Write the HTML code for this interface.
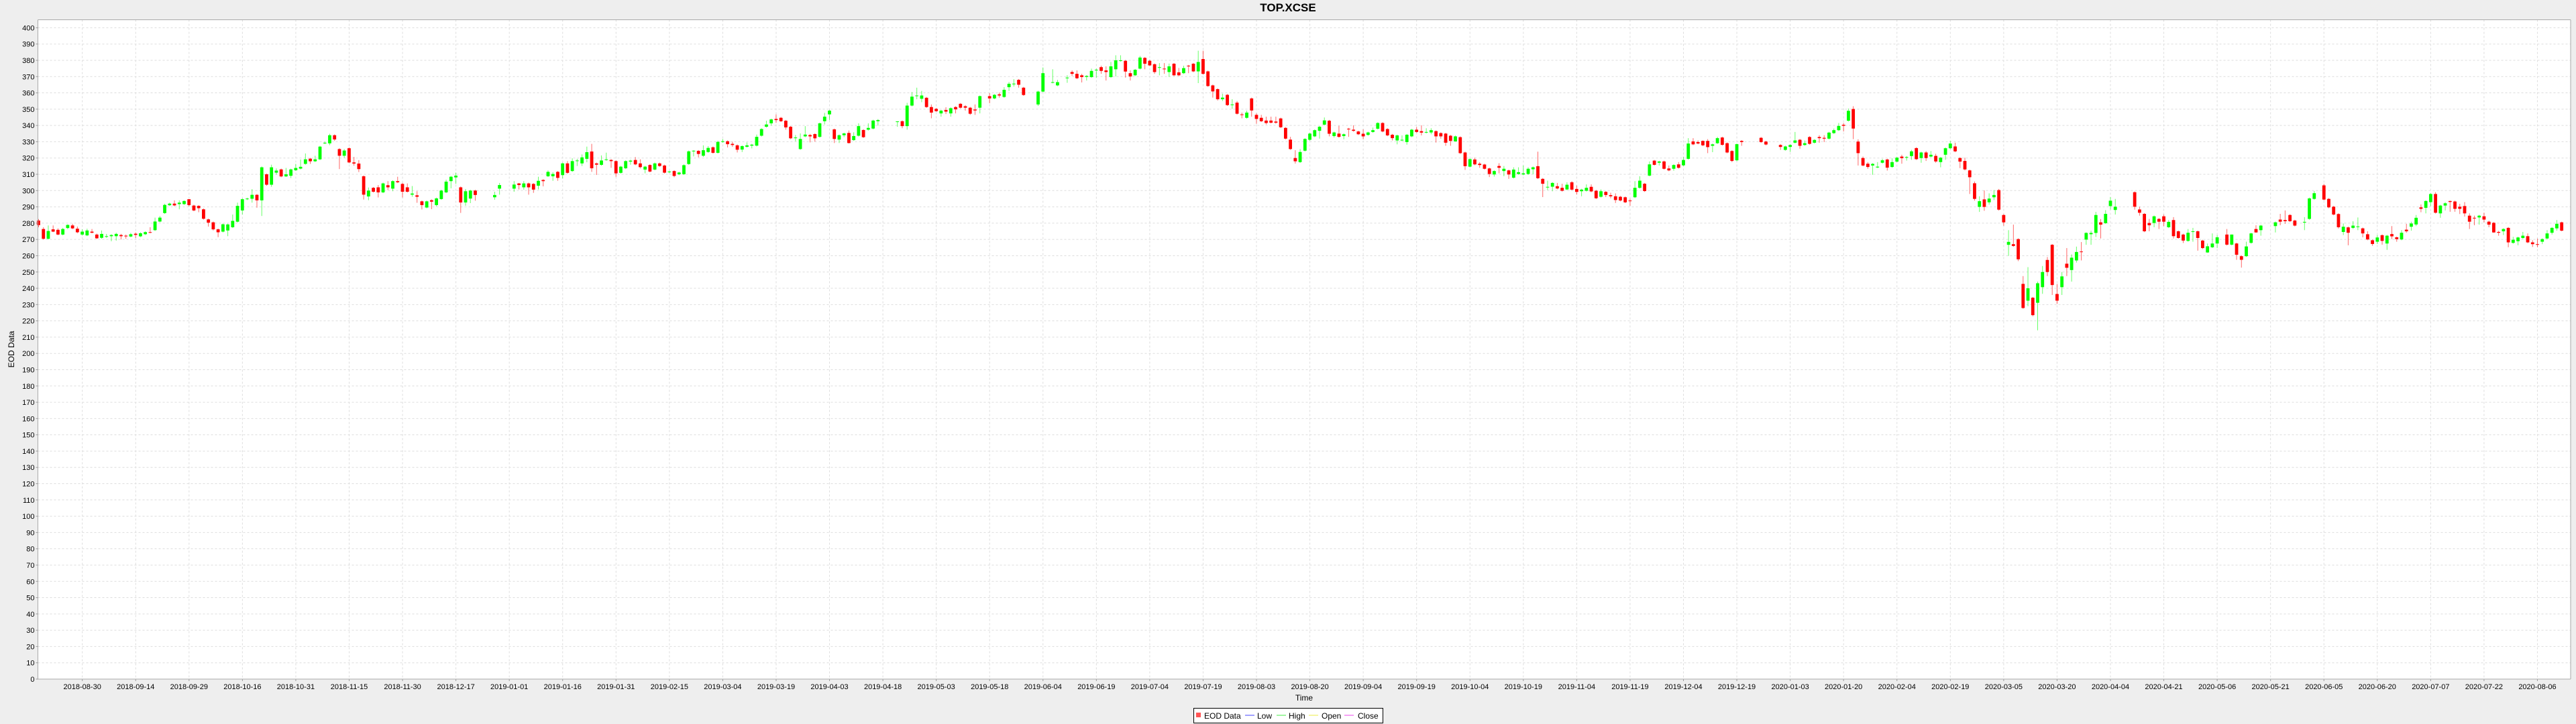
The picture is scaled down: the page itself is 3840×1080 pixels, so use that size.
<!DOCTYPE html>
<html><head><meta charset="utf-8"><title>TOP.XCSE</title>
<style>
html,body{margin:0;padding:0;background:#eeeeee;}
svg{display:block;font-family:"Liberation Sans",sans-serif;}
</style></head>
<body>
<svg id="chart" width="3840" height="1080" xmlns="http://www.w3.org/2000/svg">
<rect x="0" y="0" width="3840" height="1080" fill="#eeeeee"/>
<text x="1920" y="17" text-anchor="middle" font-size="17" font-weight="bold" fill="#000">TOP.XCSE</text>
<rect x="56.5" y="29.5" width="3775.5" height="983.5" fill="#ffffff"/>
<g id="grid"></g>
<g id="yaxis"></g>
<g id="xaxis"></g>
<g id="candles"></g>
<line x1="56.5" y1="29.5" x2="56.5" y2="1013" stroke="#aaaaaa" stroke-width="1"/>
<line x1="56.5" y1="1013" x2="3832" y2="1013" stroke="#aaaaaa" stroke-width="1"/>
<line x1="56.5" y1="29.5" x2="3832" y2="29.5" stroke="#aaaaaa" stroke-width="1"/>
<line x1="3832" y1="29.5" x2="3832" y2="1013" stroke="#aaaaaa" stroke-width="1"/>
<text transform="translate(21,521) rotate(-90)" text-anchor="middle" font-size="12" fill="#000">EOD Data</text>
<text x="1944" y="1045" text-anchor="middle" font-size="12" fill="#000">Time</text>
<g>
<rect x="1779.5" y="1056.5" width="282" height="22" fill="#ffffff" stroke="#000" stroke-width="1"/>
<g><rect x="1783" y="1063" width="7" height="7" fill="#ff5555"/><text x="1795" y="1072" font-size="12" fill="#000">EOD Data</text></g>
<g><line x1="1856" y1="1067" x2="1870" y2="1067" stroke="#4444ff"/><text x="1874" y="1072" font-size="12" fill="#000">Low</text></g>
<g><line x1="1903" y1="1067" x2="1917" y2="1067" stroke="#44ee44"/><text x="1921" y="1072" font-size="12" fill="#000">High</text></g>
<g><line x1="1951" y1="1067" x2="1965" y2="1067" stroke="#eeee44"/><text x="1970" y="1072" font-size="12" fill="#000">Open</text></g>
<g><line x1="2004" y1="1067" x2="2018" y2="1067" stroke="#ee44ee"/><text x="2024" y="1072" font-size="12" fill="#000">Close</text></g>
</g>
</svg>
<script>
const tickLabels = ["2018-08-30","2018-09-14","2018-09-29","2018-10-16","2018-10-31","2018-11-15","2018-11-30","2018-12-17","2019-01-01","2019-01-16","2019-01-31","2019-02-15","2019-03-04","2019-03-19","2019-04-03","2019-04-18","2019-05-03","2019-05-18","2019-06-04","2019-06-19","2019-07-04","2019-07-19","2019-08-03","2019-08-20","2019-09-04","2019-09-19","2019-10-04","2019-10-19","2019-11-04","2019-11-19","2019-12-04","2019-12-19","2020-01-03","2020-01-20","2020-02-04","2020-02-19","2020-03-05","2020-03-20","2020-04-04","2020-04-21","2020-05-06","2020-05-21","2020-06-05","2020-06-20","2020-07-07","2020-07-22","2020-08-06"];
const yTicks = [0,10,20,30,40,50,60,70,80,90,100,110,120,130,140,150,160,170,180,190,200,210,220,230,240,250,260,270,280,290,300,310,320,330,340,350,360,370,380,390,400];
const open = [281.6,276.4,270.4,276.2,275.9,273,277,278.6,276.6,273,
272.5,274.8,273,271,271.6,272,272,272.7,272.3,271.8,
273.5,271.9,273.2,274.5,275.7,281,286.2,291,292,291.7,
291.7,294.7,290.8,290.6,288.5,282.3,280.5,276.2,274.8,275.5,
277.5,280.9,287.8,294.7,295,297.4,294,310,303.6,311,
313,308.7,309.1,312.5,313.5,316.4,319.6,318,319.2,329,
329,334,325.5,321.4,326,317.3,316.6,308.8,296.4,301.7,
302,298.9,303.3,301.2,305.8,304.1,302,297.5,297.1,293.4,
289.6,294.1,291.1,294.8,298.9,305.8,308.1,302,292.7,295.1,
300,null,null,null,295.9,301.2,null,null,301.2,304.4,
302,304.4,304.1,303,306.5,308.8,308.8,311.5,309.5,316.7,
312,318.1,316.7,319.5,324,316.7,315.8,318.8,318.8,318.1,
310.9,313.7,317.8,318.8,316.7,312.9,315.7,312.9,316.7,315.4,
311.3,312,310,310.1,316.3,324.1,324.4,321.4,323.7,326.6,
323.2,329.9,330.3,328.7,327.8,325.2,326.9,327.6,327.6,333.7,
339.2,341.3,344,344.7,342.9,339.2,332.2,325.5,333.3,334.1,
334.7,333,342.6,346.8,337.6,331.3,334,335.4,331,333.7,
337.2,337.4,338.1,342.6,null,null,null,342.2,342.6,339.6,
352.2,358.1,356.4,357,351.3,350.2,347.4,349.5,347.4,351.3,
353.3,351.8,350.9,349.8,350.9,null,358,356.6,359.1,357.5,
363.5,365.3,368,363.2,null,null,352.9,360.8,null,366.4,
364.6,null,369,372.8,371.7,370.8,369.8,369.7,374,375.8,
373.8,369.7,374.5,379.7,379.7,372.1,370.8,374.9,381.5,379.7,
377.6,375.6,374.9,372.8,377.9,372.6,372.1,376.7,377.9,373.2,
380.8,373.2,364.6,362.3,356.1,358.8,352.5,354,346.8,344.7,
356.6,346.5,344.7,343,343,342.4,344.3,338.5,331.3,320,
317.5,324.5,331.2,333.3,336.7,340.5,342.9,333.5,335,333.5,
338,337.4,336.3,334.9,334.2,336,338,341.5,337.8,334.3,
330.8,330.8,329.8,333.3,337.4,336.5,335.6,335.7,336.5,335.3,
335,333.7,330.2,332.8,323.4,314.7,319.1,316.5,316,313.6,
309.9,315.1,312,312.4,307.9,310.2,309.9,310.2,313.1,315,
307.2,302,302.4,302.7,301.7,300.7,305.1,301,299.6,299.9,
302.3,299.9,296.2,299.2,297.2,296.5,296.2,295.9,293.9,295.9,
301.7,304.2,309.2,318.4,317.1,317.9,313.6,313.4,316.1,315.5,
319.5,330.2,329.8,330.5,330.5,327.5,329.1,332.6,329.1,324.3,
318.6,330.5,null,null,null,332.4,330.1,null,null,328,
325,326.8,329.4,331.2,328,332.9,329.4,332.9,332.4,331.9,
335.3,337.1,340.4,342.9,350.1,330.1,320,316.5,315.4,314.2,
317.1,319.1,314.5,317.8,320.9,320.2,321.2,326.1,320,323.4,
320.9,321.3,317.5,322,326,327.1,320,318.2,312.4,304.5,
290,294.6,292.8,295.9,300.3,285,266.7,267.1,270.2,242.7,
232.4,234.2,231.1,240.7,257.4,266.7,236.5,240.7,255.1,251.2,
257.1,262.6,269.9,273.2,274,280.5,280,290.5,288.1,null,
null,null,299,288.4,285.7,280.1,280.1,282.6,284.2,277.5,
281.9,275,273,269.1,274.6,275,269.3,262,265.2,267.5,
null,273,266.8,267.5,259.7,259.7,267.9,276.4,275.7,null,
null,278.2,282.2,281.9,285,281.6,null,280.5,282.6,294.9,
null,303.2,294.9,290.1,285.6,274.6,277.4,277.1,277.8,276.8,
273.2,269.5,268.6,272.6,267.5,273.3,271.3,270,276,277.8,
279.2,289.7,289.4,292.9,297.9,286,290.8,293.6,293.3,290.1,
290.5,284.6,283.3,283.5,284.2,280.9,280.2,274.6,275,277.1,
267.9,268.9,270.9,272,268.2,267.1,268.6,270.6,274.1,276.8,280.5];
const high = [282.5,277.5,278.6,278.6,276.8,277.1,279.3,279.6,277.9,276.2,
276.6,276.4,273.6,275.5,273.4,273.2,274.1,273.4,273,274,
274.3,274.4,275,277.5,283.4,284.4,291.9,292.6,294,294,
294,294.7,291.3,291,289,282.8,281,276.7,279.8,279.7,
285.3,292.6,295.2,295.6,300.9,297.9,314.8,310.5,315.9,313.6,
313.5,313.9,313.5,316.4,319.1,322.8,320.1,321.4,327.5,330,
334.9,334.5,326,325.5,326.5,320.7,318.7,309.3,301.9,302.2,
303.4,304.9,305.8,306.3,308.5,304.8,304.4,302.8,299.6,293.9,
293.9,294.6,295.7,300.5,306.7,309,311,302.5,301,300.5,
300.5,null,null,null,299.3,304.7,null,null,305.8,304.7,
305.8,304.9,304.6,308.5,307,312.4,311.3,312,317.2,318.1,
319.8,319.5,322.2,327,328.7,317.2,321.6,323.3,319.3,318.6,
315.2,318.6,319,320.6,319.2,315.2,316.2,317.2,317.2,315.9,
312.2,312.5,311.6,316.1,324.6,324.8,324.9,327.8,327.3,327.1,
330.6,331.7,330.8,330,328.3,327.8,329.6,328.7,334.4,338.3,
342.9,344.2,346.8,345.2,343.4,339.7,334.1,335.1,339.6,334.8,
335.2,341.8,347.7,349.6,338.1,334.5,335.6,336.9,335.8,341.3,
337.7,341.3,343.5,343.9,null,null,null,342.6,343.1,353.9,
360.5,363.2,361.2,357.5,352.9,350.7,349.6,351.2,351.1,351.8,
353.8,352.5,351.4,352.9,358.4,null,359.8,359.3,360.2,363.5,
366.7,368.4,368.5,363.7,null,null,361.3,375.6,null,374.5,
368,null,370.8,373.8,373.8,371.7,370.9,374.9,374.9,376.7,
376.3,379,383.1,383.1,380.2,373.8,374.7,382.7,382,380.4,
378.1,378.3,378.3,378,378.4,375.3,376.7,377.2,378.4,385.9,
385.9,373.7,365.1,362.8,359.5,359.3,356.1,355,347.9,349.1,
357.1,347.4,346.5,345.4,345.4,345.4,344.8,339,333,324.8,
325.5,332.2,335.5,337.6,339.7,344.9,343.4,336.2,339.8,335.1,
338.5,340.1,336.8,337.6,336.2,338.7,342,342,338.3,334.8,
334.4,333.9,334.8,337.9,339.1,340.1,338.3,338.3,337,335.8,
335.5,334.2,333.8,333.3,323.9,319.8,320.2,317.5,316.5,314.1,
312.5,316.8,315.1,312.9,314.3,314.3,315.4,314.3,314.8,323.9,
307.7,306.1,305.2,304.7,304.2,305.1,305.8,303.1,301.1,303.8,
303.8,300.4,300.7,299.7,298.7,298.3,296.7,296.4,295,305.8,
308.8,304.7,317.9,318.8,318.3,318.4,315.4,316.2,317.5,320.6,
332.2,332.2,330.8,330.8,331.6,328.9,333,333.1,329.6,324.8,
328.9,331,null,null,null,332.9,330.6,null,null,328.5,
327.6,328.5,336,331.7,330.8,333.4,331.6,334,334,336.1,
338.1,341.5,341.5,350.4,351.8,331.5,320.9,317.5,316.9,317.5,
319.5,319.6,319.8,320.7,322,321.2,325,326.6,323.9,324.3,
324.3,322.6,320.7,326.5,330.5,329.4,320.5,320.2,312.9,305.6,
296.5,300.1,298.3,300.3,301,285.5,275.7,279.1,270.7,247.5,
253,234.7,244.1,253.7,259.2,267.2,242.7,250,264.7,260.8,
265.6,268.4,274.4,275.4,286.9,282.5,288,296,294.9,null,
null,null,299.5,290.1,286.2,282.6,284.7,283.1,285.3,281.9,
283.7,275.5,273.5,276.4,277.1,275.5,269.8,267.5,273.7,272.7,
null,276.4,273,268,260.2,268.6,274.1,278.7,279,null,
null,281,285.7,287.8,285.5,282.1,null,283.7,295.7,299.7,
null,304.1,295.4,290.6,286.1,279.8,277.9,281.2,283.5,277.3,
275,270,272.7,273.1,272.8,278.2,271.8,275.7,279.6,280.9,
285,291.5,294.1,298.4,299,291.3,292.9,293.8,293.8,291.9,
292.9,286,284.6,285.1,286.4,281.5,280.7,275.3,276.9,277.6,
271.6,271.7,274.6,273.7,269.5,270.5,270.7,275.7,277.6,281.9,280.9];
const low = [277.5,270,270,274.5,272.6,272.5,276.3,276.3,273.8,272.3,
272,273.8,270.3,270.4,271,268.9,269.3,270,270.4,271.3,
270.9,271.4,272.7,273.8,275.2,280.5,285.7,290.5,290.4,288.5,
291.2,290.3,287.3,286.7,282.2,277.9,275.5,271.4,274.3,272,
277,280.4,285.3,294.2,292.6,289.5,284.4,303,302.3,309.8,
308.2,308.4,307.7,312,313,315.9,316.4,317.5,318.7,328.5,
327.9,330.5,313.2,320.1,316.8,315.3,311.4,294.5,294.1,298.8,
295.8,298.4,300.3,299.6,304.6,295.8,298.8,296.2,292.5,288.4,
289.1,288.6,290.3,294.3,298.4,301.4,304.1,286.3,290.7,292.3,
293.8,null,null,null,294.4,297.5,null,null,299.3,300.7,
300.6,297.5,298.6,300.7,302.6,308.3,306,306,307.4,310.4,
311.5,315.1,315.1,317.4,311.5,309.6,315.3,318.3,314,308.5,
310.4,313.2,315.9,315.6,313.6,310.6,311.2,312.4,314.6,310.5,
310.8,308.2,309.5,309.6,315.8,321,320.4,320.7,323.2,322.7,
322.7,329.4,326.5,326.9,323.4,323.7,326.4,325.9,327.1,333.2,
338.7,339.9,341.6,342.1,337.4,331.6,330.3,325,332.8,329.6,
330,332.5,340.6,343.3,329.2,329.2,332.8,328.9,330.5,333.2,
332.3,336.9,337.6,339.9,null,null,null,339.2,338.3,337.4,
351.7,356.1,354.3,350.8,344.4,348.3,345.4,347,345.4,347.4,
350.4,349.1,346.5,346.5,347.4,null,353.6,356.1,357.1,357,
361.2,363.9,363.2,358.2,null,null,352,360.3,null,365.9,
364.1,null,366.2,370.4,368.5,366.4,367.6,369.2,369.4,371.7,
367.6,369.2,370.1,379.2,369.4,367.6,370.3,374.4,374.5,376.4,
371.7,370.8,371.7,369.8,370.3,370.3,371.6,372.1,372.7,366,
371.2,363.7,357.1,355.3,355,352,350.2,346.7,344.4,344.2,
345.4,341,342.1,340.6,341.2,341,338.4,331.4,325,316.6,
317,324,330.7,332.8,331.9,340,333.3,332.6,332.5,331.5,
333,336.2,334.1,331.5,333.7,335.5,337.5,335.8,333.4,330.8,
328.4,330.3,328.2,332.8,335.5,333.9,335.1,334.6,329.5,331.9,
327.5,327.5,330.2,322.5,312.7,314.2,315.6,314,312.9,308.3,
308.6,310.6,308.8,307.2,307.4,309.7,309.4,309.7,310,307.1,
296,300.3,299.6,300.8,299.4,300.2,300.1,297.6,296.5,299.4,
299,294.8,295.7,296,295.3,292.4,293.4,292.3,290.7,295.4,
301.2,299.2,308.7,315.4,315.4,312.9,311.9,312.2,313.5,315,
319,327.9,328.4,327.3,323,323.6,328.6,327.6,322.9,317.5,
318.1,327.5,null,null,null,329.3,327.8,null,null,325,
324.5,323.7,328.9,325.7,327.5,328.2,328.9,329.4,329.8,331.4,
334.8,336.6,336.3,342.4,331.6,315.4,314.9,313.4,309.7,313.8,
316.6,312.3,314,317.3,316.5,318.4,318.9,318.8,317.1,318.2,
320.4,317.1,314.3,318.9,325.5,323.6,313.8,312.4,297.9,293.8,
286.9,287.6,291.4,294.2,287.7,278.4,259.9,265.5,256.7,227.4,
229,222.8,214.2,236.6,247.5,235.9,230.4,235.9,247.5,244.1,
255.8,257.1,266.7,266.7,271.5,270.6,279.5,288.4,285.3,null,
null,null,288.3,284.6,274.5,275,277.5,276.4,278.2,277,
270.6,270.4,267.8,268.6,268.6,263.1,264.1,261.7,264.7,264.7,
null,266.3,266.3,257.5,252.7,259.3,267.4,274.1,272.3,null,
null,274.3,278.7,279.6,280.7,278,null,275.7,282.1,294.4,
null,294,289.2,284.8,276.7,272.7,266.4,276.4,275.7,271.3,
269.5,266.1,267.2,266.8,263.6,270.2,268.6,269.5,274.1,275.4,
278.2,286.7,286,290.5,285.9,283.3,287.8,287,287,285.6,
284,276.4,278.7,279.1,280.5,277.5,274.1,272.3,272.7,265.2,
267.4,266.4,270.4,267.7,265.4,265.2,267.1,270.1,273,275.4,275];
const close = [278.8,270.4,275.2,274.8,273,276.4,278.9,276.8,274.4,274.8,
275.5,274.1,270.7,273.4,272,272.7,273.4,272,271.9,273.2,
272.8,273.8,274.5,274.1,281,283.4,291.2,292,290.9,292.6,
293.6,291.1,287.8,289.2,282.7,280.3,276.2,274.4,279.3,279.2,
281.4,290.6,294.7,295.1,297.4,294,314.3,303.6,314.3,312.3,
308.7,310,313,313.9,314.6,319.2,318,319.2,327,329.4,
334,331.4,321.4,324.6,317.3,316.6,313.2,297.5,300,299.3,
298.9,304.4,302,305.8,305.1,299.3,299.3,298.2,296.2,291.1,
293.4,293.2,295.2,300,305.5,308.5,309.2,292.7,299.6,300,
297.3,null,null,null,297.3,303.4,null,null,303.7,303.4,
304.4,302,300.6,306,305.8,311.5,310.2,307.8,316.7,310.9,
318.1,318.5,320.4,323.6,313.7,315.9,318.5,319.2,318.1,310.6,
314.7,318.1,318.4,316.1,314.4,314.7,311.7,316.7,315.1,311,
311.7,309,311.1,315.6,324.1,324.5,322.5,324.8,326.2,323.2,
329.9,330.3,328.5,328,325.1,327.3,327.8,328.2,333,337.8,
340.6,343.7,343.3,342.6,338.8,332.1,332.6,331.7,334.4,333.3,
332.1,341.3,345.4,349.1,331.7,334,335.1,329.2,333.5,339.6,
332.8,338.5,343,343.3,null,null,null,342.5,339.6,352.2,
357.7,358.4,358.4,351.3,347.9,348.8,349.1,348.5,350.6,349.9,
350.9,350.9,347.2,349.2,358,null,356.6,358.8,358.4,361.9,
365.6,365.7,365,358.7,null,null,360.8,372.1,null,366.6,
366.6,null,369.4,371.7,369,369.7,370.4,373.5,374.2,373.5,
372.8,376.3,380,380,373.1,370.1,374.2,381.7,377.9,376.9,
372.8,375.8,374.6,376.3,370.8,370.8,375.2,376.3,373.2,379,
371.7,364.2,360.9,356.1,357.1,352.5,352.9,347.2,346.4,347.9,
349.2,344,342.6,341.5,341.7,341.7,338.9,331.9,325.5,318,
323.7,331.7,335,337.1,339.2,343.1,334.9,335.7,333,334.6,
337.6,336.7,334.6,333.3,335.7,337.1,341.5,336.3,333.9,332.2,
333.9,331.2,334.3,337.4,336,335.6,336,337.1,333.3,333.3,
329.4,330.5,333.3,323,315,319.3,316.1,315.7,313.4,310.2,
312,314,313.4,309.9,312.9,311.3,310.6,313.4,314.3,307.6,
304.2,302.3,304.7,301.3,299.9,303.6,300.6,299.2,300.6,301.7,
299.5,295.3,299.6,297.3,296.5,294.2,293.9,292.8,293.5,301.7,
306.1,299.7,316.1,315.8,317.9,313.4,312.4,315.7,314,318.8,
328.9,328.4,328.9,327.8,326.7,328.4,332.2,328.1,323.4,318.2,
328.5,329.8,null,null,null,329.8,328.3,null,null,326.8,
327.1,328,330.8,327.5,329.1,328.7,331.1,332.2,331.9,335.6,
337.1,339.7,339.8,349,338.1,323,315.4,314.5,316.4,314.7,
318.6,314.1,317.5,320.2,319.9,320.6,324.1,319.3,323.4,320,
322,317.9,320.2,326,328.9,324.1,317.8,313,308.2,294.9,
293.5,290,295.1,297.3,288.3,280.5,268.5,266,257.8,227.9,
240,223.5,243.1,250,250,242,232.4,247.3,252.6,258.8,
262.3,262.3,274,274,285,279.1,285.7,293.8,290.1,null,
null,null,290.1,286.4,275,278.7,284.2,280.9,280.9,280.8,
272,270.9,269.3,274.1,275,270.9,264.7,265.8,267.5,271.3,
null,266.8,273,260.6,257.5,265.7,273.7,274.3,278.5,null,
null,280.5,280.9,281.2,281.2,278.5,null,280.8,295.2,298.4,
null,294.5,289.7,285.3,277.5,277.8,274.1,278.5,278,273.7,
270,267.2,271.2,269.1,272.3,271.9,270.2,274.1,275,279.8,
283.3,288.8,293.6,297.9,286.4,290.8,292.2,293,288.8,288.8,
286,280.9,283,284.6,282.2,279.1,274.3,274.1,276.4,268.2,
269.8,271.2,272.3,268.2,267.1,266.8,270.2,273.7,277.1,279.6,275.4];

const NS = "http://www.w3.org/2000/svg";
const plotLeft = 56.5, plotRight = 3832, plotTop = 29.5, plotBottom = 1013;
const yMax = 404.9, slotStep = 7.233, slotOffset = 1.0;
function yScale(v){ return plotBottom - (v / yMax) * (plotBottom - plotTop); }
function xScale(i){ return plotLeft + slotOffset + i * slotStep; }
function el(tag, attrs){ const e = document.createElementNS(NS, tag); for (const k in attrs) e.setAttribute(k, attrs[k]); return e; }

const grid = document.getElementById('grid');
const yaxis = document.getElementById('yaxis');
const xaxis = document.getElementById('xaxis');
const candles = document.getElementById('candles');

yTicks.forEach(function(v){
  const y = yScale(v);
  const g = el('line', {x1: plotLeft, x2: plotRight, y1: y, y2: y, stroke: '#dddddd', 'stroke-width': 1, 'stroke-dasharray': '3,3'});
  
  
  grid.appendChild(g);
  const t = el('line', {x1: plotLeft - 3, x2: plotLeft, y1: y, y2: y, stroke: '#999999', 'stroke-width': 1});
  
  
  yaxis.appendChild(t);
  const lbl = el('text', {x: plotLeft - 5, y: y + 4, 'text-anchor': 'end', 'font-size': 11, fill: '#000'});
  lbl.textContent = String(v);
  
  
  yaxis.appendChild(lbl);
});

tickLabels.forEach(function(s, k){
  const x = 122.7 + k * 79.56;
  const g = el('line', {x1: x, x2: x, y1: plotTop, y2: plotBottom, stroke: '#dddddd', 'stroke-width': 1, 'stroke-dasharray': '3,3'});
  
  
  grid.appendChild(g);
  const t = el('line', {x1: x, x2: x, y1: plotBottom, y2: plotBottom + 3, stroke: '#999999', 'stroke-width': 1});
  
  
  xaxis.appendChild(t);
  const lbl = el('text', {x: x, y: plotBottom + 15, 'text-anchor': 'middle', 'font-size': 11, fill: '#000'});
  lbl.textContent = s;
  
  
  xaxis.appendChild(lbl);
});

for (let i = 0; i < close.length; i++) {
  if (open[i] == null || close[i] == null) continue;
  const up = close[i] >= open[i];
  const col = up ? '#00ff00' : '#ff0000';
  const x = xScale(i);
  const w = el('line', {x1: x, x2: x, y1: yScale(high[i]), y2: yScale(low[i]), stroke: col, 'stroke-opacity': 0.6, 'stroke-width': 1});
  
  
  candles.appendChild(w);
  const top = yScale(Math.max(open[i], close[i]));
  const bot = yScale(Math.min(open[i], close[i]));
  const b = el('rect', {x: x - 2.4, y: top, width: 4.8, height: Math.max(1, bot - top), fill: col});
  
  
  candles.appendChild(b);
}
</script>
</body></html>
